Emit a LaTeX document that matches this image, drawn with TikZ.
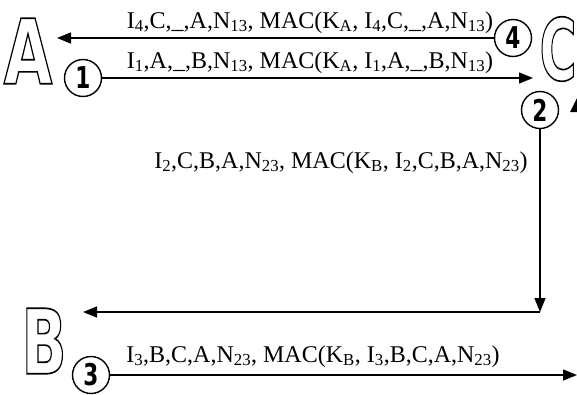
\documentclass[tikz,border=0pt]{standalone}
\usepackage{fontspec}
\setmainfont{Liberation Serif}
\newfontfamily\lettersans{DejaVu Sans}
\usetikzlibrary{arrows.meta}
\newcommand\outlined[1]{\special{pdf:literal direct 1 Tr 1.7 w}#1\special{pdf:literal direct 0 Tr}}
\newcommand\cnum[1]{\scalebox{0.72}[1]{#1}}
\begin{document}
\begin{tikzpicture}[x=1pt,y=-1pt,
  msg/.style={font=\fontsize{24}{24}\selectfont, inner sep=0pt, anchor=base},
  num/.style={circle, draw, line width=1.4pt, minimum size=37pt, inner sep=0pt,
    font=\lettersans\bfseries\fontsize{30}{30}\selectfont},
  bigletter/.style={inner sep=0pt, font=\lettersans\bfseries\fontsize{90}{90}\selectfont},
  arr/.style={line width=1.4pt, -{Triangle[length=14pt,width=11pt]}}]
\useasboundingbox (0,0) rectangle (577,394);
\clip (0,0) rectangle (577,394);
% big outlined letters
\node[bigletter, xscale=0.7, transform shape] (A) at (28,51) {\outlined{A}};
\node[bigletter, xscale=0.66, transform shape] (B) at (44,341) {\outlined{B}};
\node[bigletter, xscale=0.56, yscale=0.95, transform shape] (C) at (558,49) {\outlined{C}};
% circled numbers
\node[num] (c1) at (83,78) {\cnum{1}};
\node[num] (c4) at (513,38) {\cnum{4}};
\node[num] (c2) at (540,110) {\cnum{2}};
\node[num] (c3) at (91,375) {\cnum{3}};
% arrow end points
\coordinate (e4) at (57,38);
\coordinate (e1) at (533,78);
\coordinate (k2) at (540,312);
\coordinate (e2) at (83,312);
\coordinate (e3) at (577,375);
\draw[arr] (c4.west) -- (e4);
\draw[arr] (c1.east) -- (e1);
\draw[arr] (c2.south) -- (k2);
\draw[arr] (k2) -- (e2);
\draw[arr] (c3.east) -- (e3);
% partial arrowhead at right edge
\fill (570,112) -- (578,96) -- (586,112) -- cycle;
% messages
\node[msg] (t4) at (310,28) {I\textsubscript{4},C,\_,A,N\textsubscript{13}, MAC(K\textsubscript{A}, I\textsubscript{4},C,\_,A,N\textsubscript{13})};
\node[msg] (t1) at (310,68) {I\textsubscript{1},A,\_,B,N\textsubscript{13}, MAC(K\textsubscript{A}, I\textsubscript{1},A,\_,B,N\textsubscript{13})};
\node[msg] (t2) at (341,168) {I\textsubscript{2},C,B,A,N\textsubscript{23}, MAC(K\textsubscript{B}, I\textsubscript{2},C,B,A,N\textsubscript{23})};
\node[msg] (t3) at (313,362) {I\textsubscript{3},B,C,A,N\textsubscript{23}, MAC(K\textsubscript{B}, I\textsubscript{3},B,C,A,N\textsubscript{23})};
\end{tikzpicture}
\end{document}
